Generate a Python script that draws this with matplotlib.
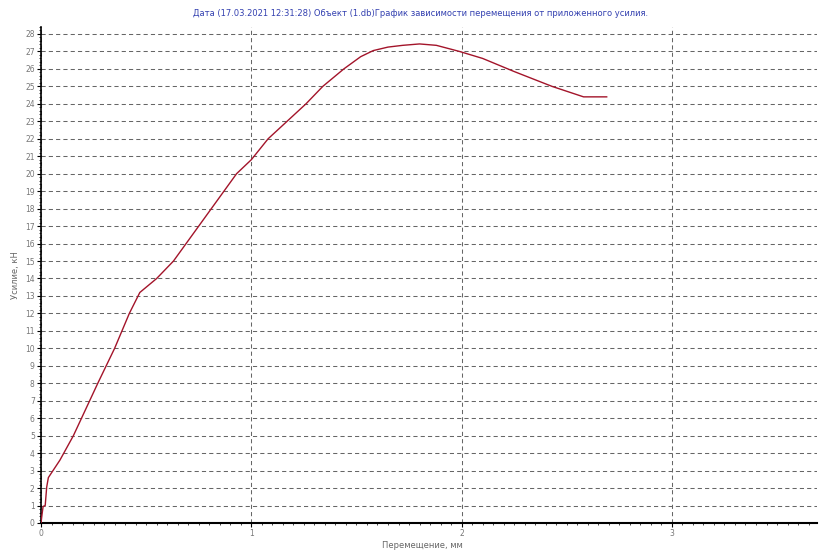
import matplotlib.pyplot as plt
from matplotlib.ticker import MultipleLocator

# перемещение, мм / усилие, кН
displacement = [0.0, 0.005, 0.01, 0.02, 0.027, 0.035, 0.09, 0.154, 0.27, 0.35, 0.42, 0.47,
                0.55, 0.63, 0.69, 0.75, 0.81, 0.87, 0.93, 1.0, 1.08, 1.17, 1.26, 1.34,
                1.44, 1.52, 1.58, 1.65, 1.72, 1.80, 1.88, 1.99, 2.10, 2.25, 2.43, 2.58, 2.69]
force = [0.0, 0.5, 0.95, 1.0, 2.05, 2.6, 3.6, 5.0, 8.0, 10.0, 12.0, 13.2,
         14.0, 15.0, 16.0, 17.0, 18.0, 19.0, 20.0, 20.8, 22.0, 23.0, 24.0, 25.0,
         26.0, 26.7, 27.05, 27.25, 27.35, 27.43, 27.35, 27.0, 26.6, 25.85, 25.0, 24.4, 24.4]

y_ticks = list(range(0, 29))
x_ticks = [0, 1, 2, 3]

title = ("Дата (17.03.2021 12:31:28) Объект (1.db)График зависимости "
         "перемещения от приложенного усилия.")

fig = plt.figure(figsize=(8.27, 5.51), dpi=100)
ax = fig.add_axes([41 / 827, 1 - 523 / 551, (817 - 41) / 827, (523 - 27) / 551])

ax.plot(displacement, force, color='#a3142a', linewidth=1.0, zorder=3)

ax.set_xlim(0, 3.69)
ax.set_ylim(0, 28.4)
ax.set_xticks(x_ticks)
ax.set_yticks(y_ticks)
ax.xaxis.set_minor_locator(MultipleLocator(0.05))
ax.yaxis.set_minor_locator(MultipleLocator(0.2))

ax.grid(True, which='major', color='#666666', linestyle=(0, (4, 3)), linewidth=0.75)
ax.set_axisbelow(True)

for s in ['top', 'right']:
    ax.spines[s].set_visible(False)
ax.spines['left'].set_linewidth(1.2)
ax.spines['bottom'].set_linewidth(1.5)

ax.tick_params(axis='both', which='major', labelsize=5.5, labelcolor='#777777',
               length=3, width=0.8, direction='out', pad=1.5)
ax.tick_params(axis='both', which='minor', length=1.5, width=0.5, direction='out')

ax.set_ylabel('Усилие, кН', fontsize=6, color='#666666', labelpad=4)

# подпись оси X ставим вручную, чтобы не обрезалась снизу
fig.text(0.511, 1 - 545 / 551, 'Перемещение, мм', ha='center', va='center',
         fontsize=6, color='#666666')

fig.text(0.508, 0.975, title, ha='center', va='center', fontsize=6, color='#3340b0')

fig.savefig('out.png', dpi=100)
